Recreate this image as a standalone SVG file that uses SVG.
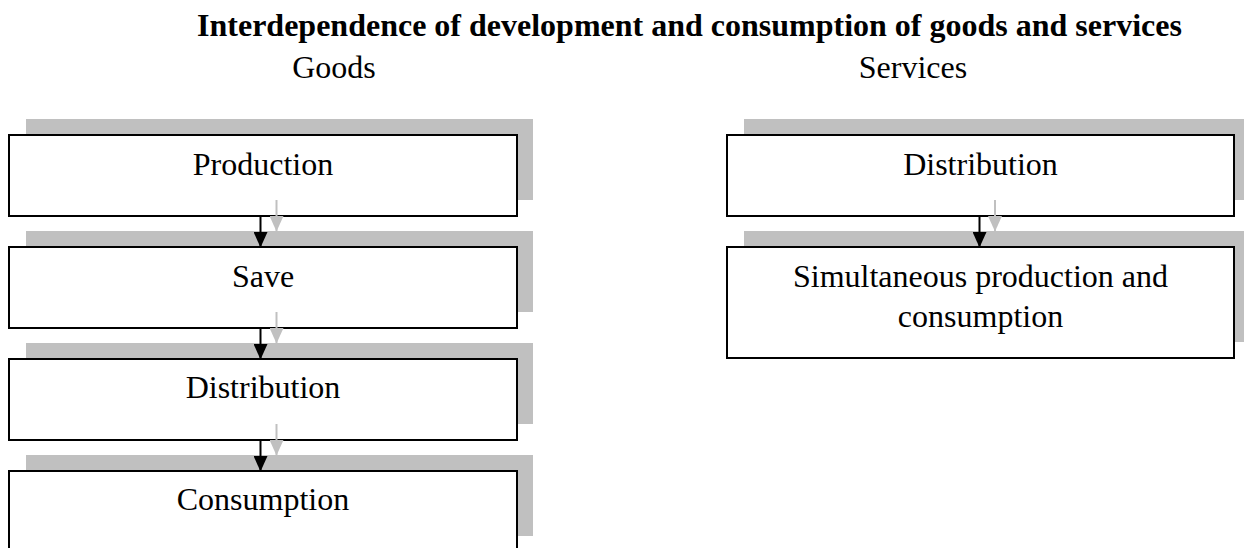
<svg xmlns="http://www.w3.org/2000/svg" width="1244" height="548" viewBox="0 0 1244 548">
<style>
text{font-family:"Liberation Serif","Times New Roman",serif;font-size:32px;fill:#000;text-anchor:middle}
.title{font-weight:bold}
.shadow{fill:#c0c0c0;stroke:none}
.box{fill:#fff;stroke:#000;stroke-width:2}
.arr{stroke:#000;stroke-width:2;fill:none}
.arrg{stroke:#c0c0c0;stroke-width:2;fill:none}
</style>
<defs>
<marker id="ah" markerUnits="userSpaceOnUse" markerWidth="15.5" markerHeight="14" refX="15.5" refY="7" orient="auto" viewBox="0 0 15.5 14">
<path d="M0,0 L15.5,7 L0,14 Z" fill="#000"/>
</marker>
<marker id="ahg" markerUnits="userSpaceOnUse" markerWidth="15.5" markerHeight="14" refX="15.5" refY="7" orient="auto" viewBox="0 0 15.5 14">
<path d="M0,0 L15.5,7 L0,14 Z" fill="#c0c0c0"/>
</marker>
</defs>
<rect width="1244" height="548" fill="#fff"/>
<g id="headings">
<text class="title" x="689.5" y="36">Interdependence of development and consumption of goods and services</text>
<text x="334" y="78">Goods</text>
<text x="913" y="78">Services</text>
</g>
<g id="goods-production">
<rect class="shadow" x="26" y="119" width="507" height="81"/>
<rect class="box" x="9" y="135" width="508" height="81"/>
<text x="263" y="175">Production</text>
</g>
<g id="goods-save">
<rect class="shadow" x="26" y="231" width="507" height="81"/>
<rect class="box" x="9" y="247" width="508" height="81"/>
<text x="263" y="287">Save</text>
</g>
<g id="goods-distribution">
<rect class="shadow" x="26" y="343" width="507" height="81"/>
<rect class="box" x="9" y="359" width="508" height="81"/>
<text x="263" y="398">Distribution</text>
</g>
<g id="goods-consumption">
<rect class="shadow" x="26" y="455" width="507" height="81"/>
<rect class="box" x="9" y="471" width="508" height="81"/>
<text x="263" y="510">Consumption</text>
</g>
<g id="services-distribution">
<rect class="shadow" x="744" y="119" width="507" height="81"/>
<rect class="box" x="727" y="135" width="507" height="81"/>
<text x="980.5" y="175">Distribution</text>
</g>
<g id="services-simultaneous">
<rect class="shadow" x="744" y="231" width="507" height="111"/>
<rect class="box" x="727" y="247" width="507" height="111"/>
<text x="980.5" y="287">Simultaneous production and</text>
<text x="980.5" y="327">consumption</text>
</g>
<g id="connectors">
<line class="arrg" x1="276.5" y1="200" x2="276.5" y2="231.5" marker-end="url(#ahg)"/>
<line class="arrg" x1="276.5" y1="312" x2="276.5" y2="343.5" marker-end="url(#ahg)"/>
<line class="arrg" x1="276.5" y1="424" x2="276.5" y2="455.5" marker-end="url(#ahg)"/>
<line class="arrg" x1="995" y1="200" x2="995" y2="231.5" marker-end="url(#ahg)"/>
<line class="arr" x1="260.5" y1="216" x2="260.5" y2="247.5" marker-end="url(#ah)"/>
<line class="arr" x1="260.5" y1="328" x2="260.5" y2="359.5" marker-end="url(#ah)"/>
<line class="arr" x1="260.5" y1="440" x2="260.5" y2="471.5" marker-end="url(#ah)"/>
<line class="arr" x1="979.5" y1="216" x2="979.5" y2="247.5" marker-end="url(#ah)"/>
</g>
</svg>
